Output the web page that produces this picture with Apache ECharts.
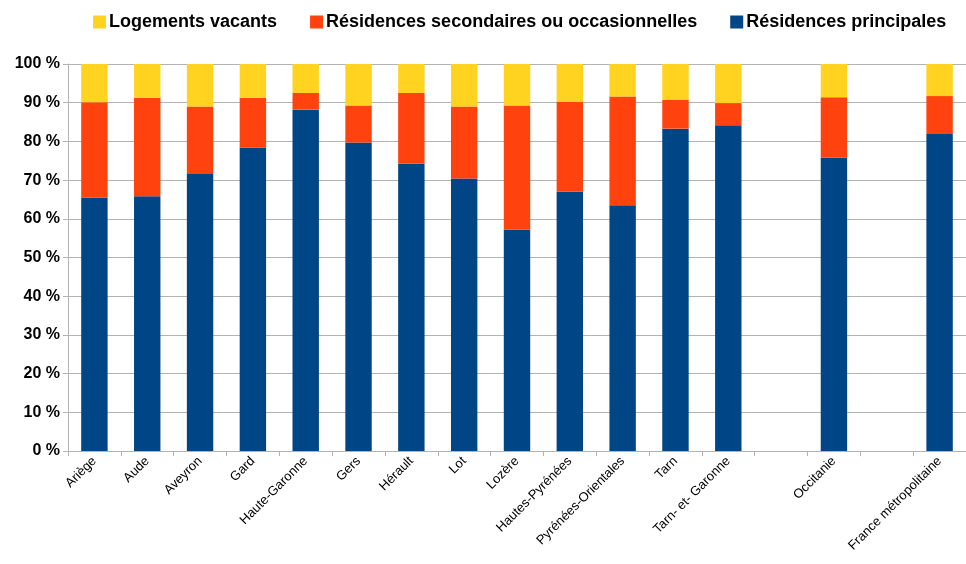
<!DOCTYPE html>
<html lang="fr">
<head>
<meta charset="UTF-8">
<script src="https://cdn.jsdelivr.net/npm/echarts@6/dist/echarts.min.js"></script>
<title>Logements</title>
</head>
<body style="margin:0; background:#fff">
<div id="chart" style="width:966px; height:564px"></div>
<script>
// catégories (les vides servent d'espacement)
var categories = ['Ariège', 'Aude', 'Aveyron', 'Gard', 'Haute-Garonne', 'Gers', 'Hérault', 'Lot', 'Lozère',
    'Hautes-Pyrénées', 'Pyrénées-Orientales', 'Tarn', 'Tarn- et- Garonne', '', 'Occitanie', '', 'France métropolitaine'];

// parts en %
var principales = [65.5, 65.8, 71.6, 78.4, 88.2, 79.7, 74.2, 70.4, 57.2, 67.0, 63.5, 83.3, 84.2, '-', 75.8, '-', 81.9];
var secondaires = [24.6, 25.5, 17.4, 12.9, 4.3, 9.6, 18.3, 18.6, 32.1, 23.2, 28.1, 7.4, 5.7, '-', 15.6, '-', 9.8];
var vacants = [9.9, 8.7, 11.0, 8.7, 7.5, 10.7, 7.5, 11.0, 10.7, 9.8, 8.4, 9.3, 10.1, '-', 8.6, '-', 8.3];

var names = ['Résidences principales', 'Résidences secondaires ou occasionnelles', 'Logements vacants'];
var colors = ['#004586', '#ff420e', '#ffd320'];

var myChart = echarts.init(document.getElementById('chart'));

function barSerie(i, data) {
    return {
        name: names[i],
        type: 'bar',
        stack: 'total',
        data: data,
        barWidth: '50%',
        itemStyle: {color: colors[i]}
    };
}

var option = {
    animation: false,
    textStyle: {fontFamily: 'Liberation Sans'},
    legend: {
        data: ['Logements vacants', 'Résidences secondaires ou occasionnelles', 'Résidences principales'],
        top: 8,
        left: 88,
        itemWidth: 13,
        itemHeight: 13,
        itemGap: 33,
        icon: 'rect',
        textStyle: {fontSize: 18, fontWeight: 'bold', color: '#000', padding: [0, 0, 0, -2]}
    },
    grid: {left: 68, right: -5, top: 64, bottom: 113},
    xAxis: {
        type: 'category',
        data: categories,
        axisLine: {lineStyle: {color: '#b3b3b3'}},
        axisTick: {show: true, length: 5, lineStyle: {color: '#b3b3b3'}},
        axisLabel: {rotate: 45, fontSize: 13, color: '#000', margin: 8, interval: 0}
    },
    yAxis: {
        type: 'value',
        min: 0,
        max: 100,
        interval: 10,
        axisLine: {show: true, lineStyle: {color: '#b3b3b3'}},
        axisTick: {show: true, length: 5, lineStyle: {color: '#b3b3b3'}},
        splitLine: {lineStyle: {color: '#b3b3b3'}},
        axisLabel: {formatter: '{value} %', fontSize: 16, fontWeight: 'bold', color: '#000', margin: 8}
    },
    series: [
        barSerie(0, principales),
        barSerie(1, secondaires),
        barSerie(2, vacants)
    ]
};
myChart.setOption(option);
</script>
</body>
</html>
